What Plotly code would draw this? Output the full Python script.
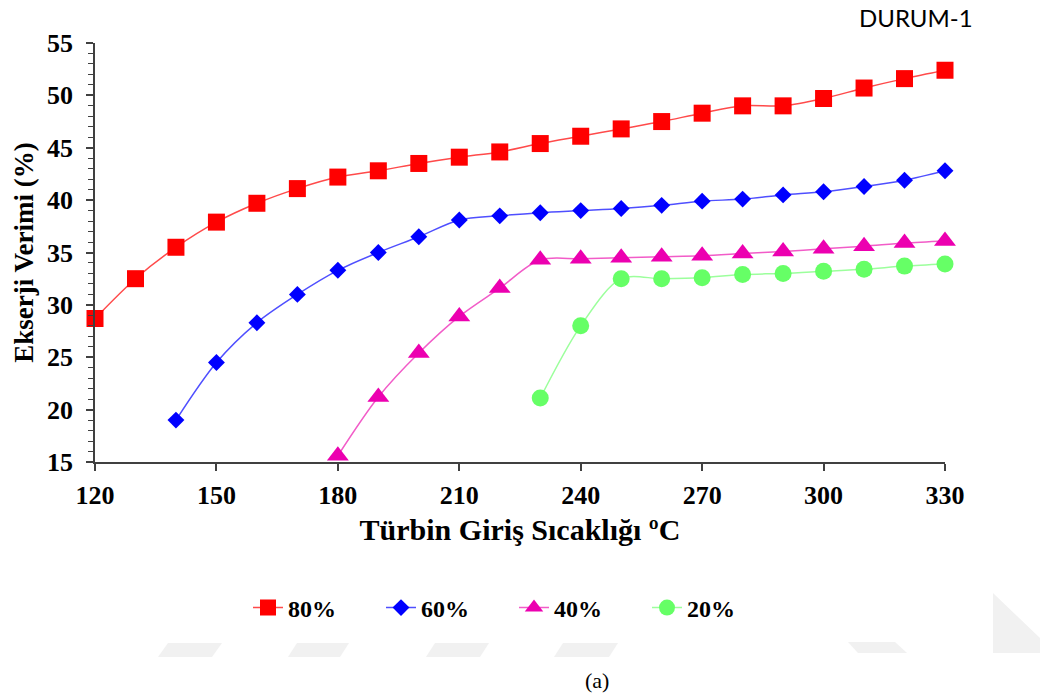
import plotly.graph_objects as go

# ---- data ----
temps_80 = [120, 130, 140, 150, 160, 170, 180, 190, 200, 210, 220,
            230, 240, 250, 260, 270, 280, 290, 300, 310, 320, 330]
eff_80 = [28.7, 32.5, 35.5, 37.9, 39.7, 41.1, 42.2, 42.8, 43.5, 44.1, 44.6,
          45.4, 46.1, 46.8, 47.5, 48.3, 49.0, 49.0, 49.7, 50.7, 51.6, 52.4]

temps_60 = [140, 150, 160, 170, 180, 190, 200, 210, 220,
            230, 240, 250, 260, 270, 280, 290, 300, 310, 320, 330]
eff_60 = [19.0, 24.5, 28.3, 31.0, 33.3, 35.0, 36.5, 38.1, 38.5,
          38.8, 39.0, 39.2, 39.5, 39.9, 40.1, 40.5, 40.8, 41.3, 41.9, 42.8]

temps_40 = [180, 190, 200, 210, 220, 230, 240, 250, 260, 270, 280, 290, 300, 310, 320, 330]
eff_40 = [15.6, 21.2, 25.4, 28.9, 31.6, 34.3, 34.4, 34.5, 34.6, 34.7, 34.9, 35.1, 35.35, 35.6, 35.9, 36.1]

temps_20 = [230, 240, 250, 260, 270, 280, 290, 300, 310, 320, 330]
eff_20 = [21.1, 28.0, 32.5, 32.5, 32.6, 32.9, 33.0, 33.2, 33.4, 33.7, 33.9]

series_names = ["80%", "60%", "40%", "20%"]
x_ticks = [120, 150, 180, 210, 240, 270, 300, 330]
y_ticks = [15, 20, 25, 30, 35, 40, 45, 50, 55]

SERIF = "'Liberation Serif', 'Times New Roman', serif"
W, H = 1040, 697
PL, PR, PT, PB = 95, 945, 43, 462  # plot area in pixels

styles = [
    dict(line="#FF4A4A", marker="#FF0000", symbol="square", size=17),
    dict(line="#4F4FFF", marker="#0000FF", symbol="diamond", size=13),
    dict(line="#F25CC8", marker="#EC00B0", symbol="triangle-up", size=19),
    dict(line="#9CFF9C", marker="#66FF66", symbol="circle", size=17),
]

fig = go.Figure()
for name, xs, ys, st in zip(series_names,
                            [temps_80, temps_60, temps_40, temps_20],
                            [eff_80, eff_60, eff_40, eff_20], styles):
    fig.add_trace(go.Scatter(
        x=xs, y=ys, name=name, mode="lines+markers",
        line=dict(color=st["line"], width=1.5, shape="spline", smoothing=0.9),
        marker=dict(color=st["marker"], symbol=st["symbol"], size=st["size"],
                    line=dict(width=0)),
        cliponaxis=False,
    ))

# faint watermark pieces at the bottom (background decoration)
wm_color = "#F1F1F1"
wm_paths = [
    [(168, 643), (222, 643), (212, 657), (158, 657)],
    [(297, 643), (349, 643), (340, 657), (288, 657)],
    [(435, 643), (489, 643), (480, 657), (426, 657)],
    [(563, 643), (618, 643), (609, 657), (554, 657)],
    [(848, 642), (895, 642), (907, 653), (858, 653)],
    [(993, 593), (1040, 638), (1040, 653), (993, 653)],
]
shapes = []
for pts in wm_paths:
    path = "M " + " L ".join(
        f"{(x - PL)/(PR - PL):.5f},{(PB - y)/(PB - PT):.5f}" for x, y in pts) + " Z"
    shapes.append(dict(type="path", path=path, xref="paper", yref="paper",
                       fillcolor=wm_color, line=dict(width=0), layer="below"))

bold = dict(family=SERIF, color="black", weight="bold")

fig.update_layout(
    width=W, height=H,
    font=dict(family=SERIF, color="black"),
    margin=dict(l=PL, r=W - PR, t=PT, b=H - PB),
    paper_bgcolor="white", plot_bgcolor="white",
    shapes=shapes,
    showlegend=True,
    legend=dict(
        orientation="h", xref="container", yref="container",
        x=248 / W, xanchor="left", y=1 - 608 / H, yanchor="middle",
        font=dict(size=24, **bold),
        entrywidth=88, entrywidthmode="pixels",
        bgcolor="rgba(0,0,0,0)", borderwidth=0,
    ),
    xaxis=dict(
        range=[120, 330], tickvals=x_ticks, ticktext=[str(v) for v in x_ticks],
        showgrid=False, zeroline=False,
        showline=True, linecolor="#404040", linewidth=1.5,
        ticks="outside", ticklen=7, tickwidth=1.5, tickcolor="#404040",
        tickfont=dict(size=26, **bold),
        ticklabelstandoff=2,
        title=dict(text="Türbin Giriş Sıcaklığı ºC",
                   font=dict(size=30, **bold),
                   standoff=10),
    ),
    yaxis=dict(
        range=[15, 55], tickvals=y_ticks, ticktext=[str(v) for v in y_ticks],
        showgrid=False, zeroline=False,
        showline=True, linecolor="#404040", linewidth=1.5,
        ticks="outside", ticklen=7, tickwidth=1.5, tickcolor="#404040",
        minor=dict(dtick=1, ticks="outside", ticklen=5, tickwidth=1, tickcolor="#404040",
                   showgrid=False),
        tickfont=dict(size=26, **bold),
        ticklabelstandoff=8,
        title=dict(text="Ekserji Verimi (%)",
                   font=dict(size=27, **bold),
                   standoff=6),
    ),
    annotations=[
        dict(text="DURUM-1", xref="paper", yref="paper",
             x=(916 - PL) / (PR - PL), y=(PB - 18) / (PB - PT),
             xanchor="center", yanchor="middle", showarrow=False,
             font=dict(family="Lato", size=24, color="black")),
        dict(text="(a)", xref="paper", yref="paper",
             x=(597 - PL) / (PR - PL), y=(PB - 680) / (PB - PT),
             xanchor="center", yanchor="middle", showarrow=False,
             font=dict(family=SERIF, size=22, color="black")),
    ],
)

fig.write_html("out.html")
